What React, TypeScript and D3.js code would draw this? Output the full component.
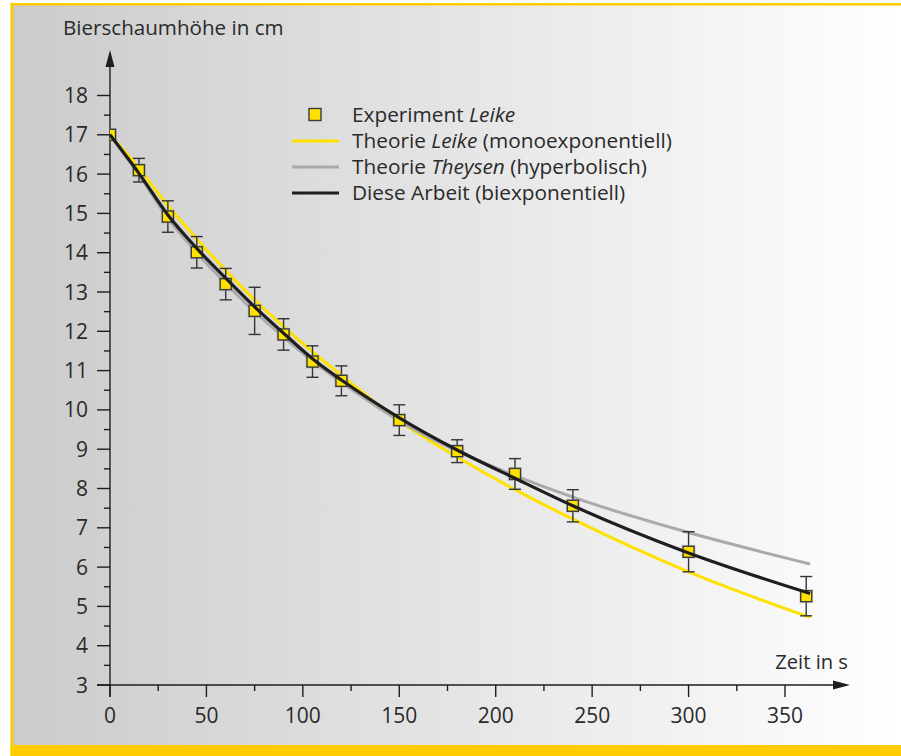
import React, { useRef, useEffect } from 'react';
import * as d3 from 'd3';

// Messwerte (Experiment Leike)
const times = [0, 15, 30, 45, 60, 75, 90, 105, 120, 150, 180, 210, 240, 300, 361];
const foamHeight = [17.0, 16.1, 14.92, 14.01, 13.2, 12.52, 11.92, 11.23, 10.74, 9.74, 8.95, 8.37, 7.56, 6.39, 5.26];
const foamError = [0, 0.3, 0.4, 0.4, 0.4, 0.6, 0.4, 0.4, 0.38, 0.39, 0.29, 0.39, 0.41, 0.51, 0.5];

// Kurven
const curveTimes = [0, 15, 30, 45, 60, 75, 90, 105, 120, 150, 180, 210, 240, 300, 363];
const leikeCurve = [17, 16.15, 15.2, 14.35, 13.55, 12.8, 12.12, 11.48, 10.88, 9.72, 8.8, 7.97, 7.22, 5.88, 4.72];
const theysenCurve = [17, 15.98, 14.88, 14.0, 13.22, 12.5, 11.85, 11.24, 10.7, 9.72, 8.95, 8.33, 7.78, 6.88, 6.08];
const thisWorkCurve = [17, 16.02, 14.96, 14.11, 13.35, 12.62, 11.95, 11.3, 10.76, 9.8, 8.98, 8.26, 7.56, 6.36, 5.33];

const xTicks = [0, 50, 100, 150, 200, 250, 300, 350];
const yTicks = [3, 4, 5, 6, 7, 8, 9, 10, 11, 12, 13, 14, 15, 16, 17, 18];

const legendItems = [
    { kind: 'square', text: 'Experiment ', italic: 'Leike', rest: '' },
    { kind: 'yellow', text: 'Theorie ', italic: 'Leike', rest: ' (monoexponentiell)' },
    { kind: 'gray', text: 'Theorie ', italic: 'Theysen', rest: ' (hyperbolisch)' },
    { kind: 'black', text: 'Diese Arbeit (biexponentiell)', italic: '', rest: '' },
];

const W = 901, H = 756;
const FONT = '"Open Sans", "Noto Sans", sans-serif';
const TEXT = '#2a2a2a';
const BORDER = '#ffcc00';
const YELLOW = '#ffe100';
const GRAY = '#aaaaaa';
const BLACK = '#1e1e1e';

const App = () => {
    const svgRef = useRef<SVGSVGElement>(null);

    useEffect(() => {
        const svg = d3.select(svgRef.current).attr('width', W).attr('height', H);
        svg.selectAll('*').remove();

        const x = d3.scaleLinear().domain([0, 350]).range([110, 785]);
        const y = d3.scaleLinear().domain([3, 18]).range([685, 95.5]);

        const defs = svg.append('defs');
        const grad = defs.append('linearGradient').attr('id', 'bg').attr('x1', 0).attr('x2', 1).attr('y1', 0).attr('y2', 0);
        grad.append('stop').attr('offset', '0%').attr('stop-color', '#cbcbcb');
        grad.append('stop').attr('offset', '100%').attr('stop-color', '#ffffff');
        defs.append('clipPath').attr('id', 'plotclip')
            .append('rect').attr('x', 110).attr('y', 40).attr('width', 760).attr('height', 645);

        // Hintergrund und Rahmen
        svg.append('rect').attr('x', 13).attr('y', 5).attr('width', W - 13).attr('height', 740).attr('fill', 'url(#bg)');
        svg.append('rect').attr('x', 10.5).attr('y', 3).attr('width', W - 10.5).attr('height', 2.5).attr('fill', BORDER);
        svg.append('rect').attr('x', 10.5).attr('y', 3).attr('width', 2.8).attr('height', H - 3).attr('fill', BORDER);
        svg.append('rect').attr('x', 10.5).attr('y', 745).attr('width', W - 10.5).attr('height', 11).attr('fill', BORDER);

        // Achsen
        const axis = svg.append('g').attr('stroke', BLACK).attr('stroke-width', 1.4);
        axis.append('line').attr('x1', 110).attr('x2', 110).attr('y1', 697).attr('y2', 62);
        axis.append('line').attr('x1', 97).attr('x2', 838).attr('y1', 685).attr('y2', 685);
        svg.append('path').attr('d', 'M110,50 L105.5,67 L114.5,67 Z').attr('fill', BLACK);
        svg.append('path').attr('d', 'M850,685 L833,680.5 L833,689.5 Z').attr('fill', BLACK);

        // y-Ticks
        const yMinor = d3.range(3.5, 18, 1);
        axis.selectAll('.ymaj').data(yTicks).enter().append('line')
            .attr('x1', 97).attr('x2', 110).attr('y1', d => y(d)).attr('y2', d => y(d));
        axis.selectAll('.ymin').data(yMinor).enter().append('line')
            .attr('x1', 104).attr('x2', 110).attr('y1', d => y(d)).attr('y2', d => y(d));
        svg.selectAll('.ylab').data(yTicks).enter().append('text')
            .attr('x', 88).attr('y', d => y(d) + 7.5).attr('text-anchor', 'end')
            .attr('font-family', FONT).attr('font-size', 21).attr('fill', TEXT).text(d => d);

        // x-Ticks
        const xMinor = d3.range(25, 350, 50);
        axis.selectAll('.xmaj').data(xTicks).enter().append('line')
            .attr('x1', d => x(d)).attr('x2', d => x(d)).attr('y1', 685).attr('y2', 697);
        axis.selectAll('.xmin').data(xMinor).enter().append('line')
            .attr('x1', d => x(d)).attr('x2', d => x(d)).attr('y1', 685).attr('y2', 691);
        svg.selectAll('.xlab').data(xTicks).enter().append('text')
            .attr('x', d => x(d)).attr('y', 723).attr('text-anchor', 'middle')
            .attr('font-family', FONT).attr('font-size', 21).attr('fill', TEXT).text(d => d);

        // Achsentitel
        svg.append('text').attr('x', 63).attr('y', 35).attr('font-family', FONT).attr('font-size', 20.6)
            .attr('fill', TEXT).text('Bierschaumhöhe in cm');
        svg.append('text').attr('x', 848).attr('y', 669).attr('text-anchor', 'end').attr('font-family', FONT)
            .attr('font-size', 20.2).attr('fill', TEXT).text('Zeit in s');

        const line = (vals: number[]) => d3.line<number>()
            .x((_, i) => x(curveTimes[i]))
            .y(d => y(d))
            .curve(d3.curveMonotoneX)(vals);

        const plot = svg.append('g');
        plot.append('path').attr('d', line(leikeCurve)).attr('fill', 'none').attr('stroke', YELLOW).attr('stroke-width', 3);
        plot.append('path').attr('d', line(theysenCurve)).attr('fill', 'none').attr('stroke', GRAY).attr('stroke-width', 3);

        // Fehlerbalken und Messpunkte
        const pts = times.map((t, i) => ({ t, v: foamHeight[i], e: foamError[i] }));
        const eb = plot.append('g').attr('stroke', '#333').attr('stroke-width', 1.4);
        const withErr = pts.filter(d => d.e > 0);
        eb.selectAll('.ev').data(withErr).enter().append('line')
            .attr('x1', d => x(d.t)).attr('x2', d => x(d.t)).attr('y1', d => y(d.v + d.e)).attr('y2', d => y(d.v - d.e));
        eb.selectAll('.et').data(withErr).enter().append('line')
            .attr('x1', d => x(d.t) - 6).attr('x2', d => x(d.t) + 6).attr('y1', d => y(d.v + d.e)).attr('y2', d => y(d.v + d.e));
        eb.selectAll('.eb').data(withErr).enter().append('line')
            .attr('x1', d => x(d.t) - 6).attr('x2', d => x(d.t) + 6).attr('y1', d => y(d.v - d.e)).attr('y2', d => y(d.v - d.e));

        const sq = plot.append('g').attr('clip-path', 'url(#plotclip)');
        sq.selectAll('.halo').data(pts).enter().append('rect')
            .attr('x', d => x(d.t) - 7).attr('y', d => y(d.v) - 7).attr('width', 14).attr('height', 14)
            .attr('fill', '#999').attr('opacity', 0.35);
        sq.selectAll('.sq').data(pts).enter().append('rect')
            .attr('x', d => x(d.t) - 5.5).attr('y', d => y(d.v) - 5.5).attr('width', 11).attr('height', 11)
            .attr('fill', YELLOW).attr('stroke', '#3a3a3a').attr('stroke-width', 1.4);

        plot.append('path').attr('d', line(thisWorkCurve)).attr('fill', 'none').attr('stroke', BLACK).attr('stroke-width', 3.2);

        // Legende
        const lg = svg.append('g');
        legendItems.forEach((item, i) => {
            const base = 122 + i * 26;
            if (item.kind === 'square') {
                lg.append('rect').attr('x', 309).attr('y', base - 13.5).attr('width', 12).attr('height', 12)
                    .attr('fill', YELLOW).attr('stroke', '#3a3a3a').attr('stroke-width', 1.4);
            } else {
                const col = item.kind === 'yellow' ? YELLOW : item.kind === 'gray' ? GRAY : BLACK;
                lg.append('line').attr('x1', 292).attr('x2', 339).attr('y1', base - 7).attr('y2', base - 7)
                    .attr('stroke', col).attr('stroke-width', 3);
            }
            const t = lg.append('text').attr('x', 352).attr('y', base).attr('font-family', FONT)
                .attr('font-size', 20.8).attr('fill', TEXT);
            t.append('tspan').text(item.text);
            if (item.italic) t.append('tspan').attr('font-style', 'italic').text(item.italic);
            if (item.rest) t.append('tspan').text(item.rest);
        });
    }, []);

    return <svg ref={svgRef} style={{ position: 'absolute', left: 0, top: 0 }}></svg>;
};

export default App;
